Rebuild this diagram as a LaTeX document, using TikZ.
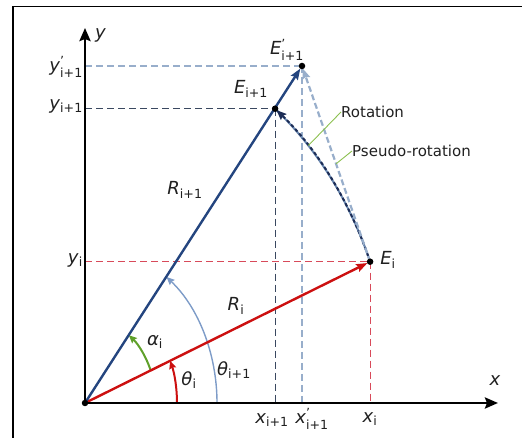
\documentclass[tikz,border=0pt]{standalone}
\usepackage{amsmath}
\usepackage{fontspec}
\setmainfont{DejaVu Sans}
\usetikzlibrary{arrows.meta,calc}
\definecolor{cred}{HTML}{CC1010}
\definecolor{cdred}{HTML}{D84A5A}
\definecolor{cblue}{HTML}{24457F}
\definecolor{cdark}{HTML}{3A4860}
\definecolor{clight}{HTML}{98AECB}
\definecolor{cpale}{HTML}{7E9CC8}
\definecolor{cgreen}{HTML}{5FA02A}
\definecolor{clgreen}{HTML}{8CC050}
\definecolor{crot}{HTML}{6A88B0}
\definecolor{crotd}{HTML}{1C2C55}
\definecolor{ctext}{HTML}{202020}
\newcommand{\lb}[2]{\textit{#1}$_{\text{#2}}$}
\newcommand{\lbp}[2]{\textit{#1}$^{\text{'}}_{\text{#2}}$}
\begin{document}
\begin{tikzpicture}[x=1pt,y=1pt,
  lbl/.style={font=\fontsize{18}{20}\selectfont, inner sep=0pt, text=ctext},
  txt/.style={font=\fontsize{15}{17}\selectfont, inner sep=0pt, anchor=west, text=ctext},
  axis/.style={line width=2.8pt, -{Stealth[length=13pt,width=11pt,inset=2pt]}},
  dsh/.style={line width=1.2pt, dash pattern=on 7pt off 4pt},
  vec/.style={line width=2.4pt, shorten >=3pt, -{Stealth[length=11pt,width=8pt,inset=1.5pt]}},
  angarc/.style={line width=2pt, -{Stealth[length=8pt,width=7pt,inset=1pt]}},
  leader/.style={clgreen, line width=0.9pt},
  dot/.style={circle, fill=black, inner sep=0pt, minimum size=6.5pt}]
\useasboundingbox (0,0) rectangle (522,438);
% frame
\coordinate (F1) at (13,0);
\coordinate (F2) at (13,431.5);
\coordinate (F3) at (522,431.5);
\draw[line width=1.5pt] (F1) -- (F2) -- (F3);
% points
\coordinate (O) at (85,35);
\coordinate (Ei) at (370.1,176.3);
\coordinate (E1) at (275.1,329.3);
\coordinate (Ep) at (302,372);
\coordinate (Yt) at (85,410);
\coordinate (Xt) at (498,35);
% dashed guides
\draw[dsh, clight] (O |- Ep) -- (Ep);
\draw[dsh, clight] (Ep) -- (O -| Ep);
\draw[dsh, cdark] (O |- E1) -- (E1);
\draw[dsh, cdark] (E1) -- (O -| E1);
\draw[dsh, cdred] (O |- Ei) -- (Ei);
\draw[dsh, cdred, line width=1pt] (Ei) -- (O -| Ei);
% angle arcs
\draw[angarc, cpale, line width=1.4pt] ($(O)+(132,0)$) arc[start angle=0, end angle=51.9, x radius=132pt, y radius=160.2pt];
\draw[angarc, cgreen] ($(O)+(65.7,32.6)$) arc[start angle=22.2, end angle=51.9, x radius=71pt, y radius=86.2pt];
\draw[angarc, cred] ($(O)+(92,0)$) arc[start angle=0, end angle=22.2, x radius=92pt, y radius=111.7pt];
% rotation arc
\draw[crot, line width=2pt] (Ei) arc[start angle=22.2, end angle=51.9, x radius=308pt, y radius=374pt];
\draw[crotd, line width=2pt, dash pattern=on 3.5pt off 2.5pt, shorten >=2pt, -{Stealth[length=10pt,width=8pt,inset=1.5pt]}] (Ei) arc[start angle=22.2, end angle=51.9, x radius=308pt, y radius=374pt];
% pseudo-rotation
\draw[clight, line width=2.2pt, dash pattern=on 6pt off 3pt, shorten >=3pt, -{Stealth[length=10pt,width=8pt,inset=1.5pt]}] (Ei) -- (Ep);
% vectors
\draw[vec, cred] (O) -- (Ei);
\draw[vec, cblue] (O) -- (Ep);
% axes
\draw[axis] (O) -- (Yt);
\draw[axis] (O) -- (Xt);
% dots
\node[dot] (dO) at (O) {};
\node[dot] (dEi) at (Ei) {};
\node[dot] (dE1) at (E1) {};
\node[dot] (dEp) at (Ep) {};
% leader lines and texts
\coordinate (Rp) at ($(O)+(223.4,257.5)$);
\coordinate (Pp) at ($(Ei)!0.5!(Ep)$);
\node[txt] (rot) at (341,326) {Rotation};
\node[txt] (pse) at (352,287) {Pseudo-rotation};
\draw[leader] (rot.west) -- (Rp);
\draw[leader] (pse.west) -- (Pp);
% labels
\node[lbl, anchor=base west] (ly) at (95,399) {\textit{y}};
\node[lbl] (lx) at (495,57) {\textit{x}};
\node[lbl, anchor=east] (lyp) at (83,371) {\lbp{y}{i+1}};
\node[lbl, anchor=east] (ly1) at (83,332) {\lb{y}{i+1}};
\node[lbl, anchor=east] (lyi) at (83,178) {\lb{y}{i}};
\node[lbl] (lE1) at (251,349) {\lb{E}{i+1}};
\node[lbl] (lEp) at (287,388) {\lbp{E}{i+1}};
\node[lbl] (lEi) at (388,178) {\lb{E}{i}};
\node[lbl] (lR1) at (185,248) {\lb{R}{i+1}};
\node[lbl] (lRi) at (236,132) {\lb{R}{i}};
\node[lbl] (la) at (155,96) {\lb{α}{i}};
\node[lbl] (lt) at (189,58) {\lb{θ}{i}};
\node[lbl] (lt1) at (234,68) {\lb{θ}{i+1}};
\node[lbl] (lx1) at (272,18) {\lb{x}{i+1}};
\node[lbl] (lxp) at (312,19) {\lbp{x}{i+1}};
\node[lbl] (lxi) at (370,19) {\lb{x}{i}};
\end{tikzpicture}
\end{document}
